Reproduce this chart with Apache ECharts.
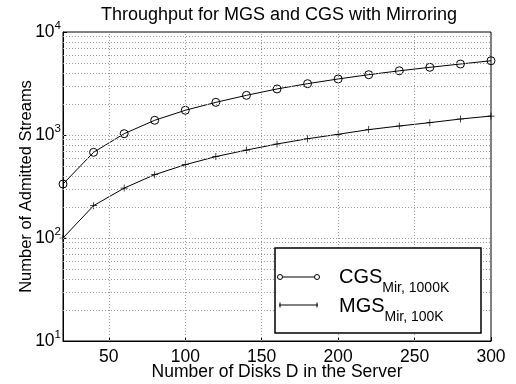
<!DOCTYPE html>
<html>
<head>
<meta charset="utf-8">
<script src="https://cdn.jsdelivr.net/npm/echarts@6/dist/echarts.min.js"></script>
<style>
  html, body { margin: 0; padding: 0; background: #fff; }
  #chart { width: 516px; height: 384px; }
</style>
</head>
<body>
<div id="chart"></div>
<script>
  // number of disks D
  var disks = [20, 40, 60, 80, 100, 120, 140, 160, 180, 200, 220, 240, 260, 280, 300];
  // admitted streams
  var cgsMir = [334, 679, 1030, 1390, 1738, 2075, 2427, 2800, 3150, 3500, 3850, 4200, 4540, 4890, 5260];
  var mgsMir = [100, 206, 305, 412, 515, 617, 714, 818, 920, 1016, 1128, 1223, 1318, 1430, 1528];
  var xTicks = [50, 100, 150, 200, 250, 300];
  var xGrid = [50, 100, 150, 200, 250];
  var yGrid = [20, 30, 40, 50, 60, 70, 80, 90, 100, 200, 300, 400, 500, 600, 700, 800, 900,
               1000, 2000, 3000, 4000, 5000, 6000, 7000, 8000, 9000];

  var font = 'Liberation Sans, Arial, Helvetica, sans-serif';

  function pairs(xs, ys) {
    return xs.map(function (x, i) { return [x, ys[i]]; });
  }

  var chart = echarts.init(document.getElementById('chart'));

  var gridLines = [];
  xGrid.forEach(function (v) { gridLines.push({xAxis: v}); });
  yGrid.forEach(function (v) { gridLines.push({yAxis: v}); });

  var option = {
    backgroundColor: '#fff',
    animation: false,
    title: {
      text: 'Throughput for MGS and CGS with Mirroring',
      left: 274, top: 1, textAlign: 'center',
      textStyle: {fontFamily: font, fontSize: 18, fontWeight: 'normal', color: '#000'}
    },
    grid: {
      left: 63, right: 25, top: 32, bottom: 43,
      outerBoundsMode: 'none',
      show: true, borderColor: '#000', borderWidth: 1
    },
    xAxis: {
      type: 'value', min: 20, max: 300,
      name: 'Number of Disks D in the Server',
      nameLocation: 'middle', nameGap: 22, nameMoveOverlap: false,
      nameTextStyle: {fontFamily: font, fontSize: 17.5, color: '#000'},
      axisLine: {lineStyle: {color: '#000'}},
      axisTick: {inside: true, length: 4, customValues: xTicks, lineStyle: {color: '#000'}},
      axisLabel: {customValues: xTicks, fontFamily: font, fontSize: 17.5, color: '#000', margin: 7},
      splitLine: {show: false}
    },
    yAxis: {
      type: 'log', logBase: 10, min: 10, max: 10000,
      name: 'Number of Admitted Streams',
      nameLocation: 'middle', nameGap: 28, nameMoveOverlap: false,
      nameTextStyle: {fontFamily: font, fontSize: 16.5, color: '#000'},
      axisLine: {lineStyle: {color: '#000'}},
      axisTick: {inside: true, length: 4, lineStyle: {color: '#000'}},
      axisLabel: {
        fontFamily: font, fontSize: 17.5, color: '#000', margin: 2,
        formatter: function (v) {
          return '10{s|' + Math.round(Math.log10(v)) + '}';
        },
        rich: {s: {fontFamily: font, fontSize: 11.5, verticalAlign: 'top', padding: [0, 0, 12, 0], color: '#000'}}
      },
      splitLine: {show: false}
    },
    series: [
      {
        name: 'grid',
        type: 'line',
        data: [],
        silent: true,
        z: 1,
        markLine: {
          silent: true,
          symbol: ['none', 'none'],
          label: {show: false},
          lineStyle: {color: '#999', type: [1, 2], width: 1},
          data: gridLines
        }
      },
      {
        name: 'CGS Mir, 1000K',
        type: 'line',
        data: pairs(disks, cgsMir),
        z: 3,
        symbol: 'circle',
        symbolSize: 8,
        lineStyle: {color: '#000', width: 1},
        itemStyle: {color: 'rgba(255,255,255,0)', borderColor: '#000', borderWidth: 1}
      },
      {
        name: 'MGS Mir, 100K',
        type: 'line',
        data: pairs(disks, mgsMir),
        z: 3,
        symbol: 'path://M0,4.5H10V5.5H0Z M4.5,0H5.5V10H4.5Z',
        symbolSize: 7,
        lineStyle: {color: '#000', width: 1},
        itemStyle: {color: '#000'}
      }
    ],
    graphic: [
      {
        type: 'rect', z: 10,
        shape: {x: 275, y: 248, width: 206, height: 85},
        style: {fill: '#fff', stroke: '#000', lineWidth: 1.5}
      },
      {type: 'line', z: 11, shape: {x1: 279, y1: 277, x2: 318, y2: 277}, style: {stroke: '#000', lineWidth: 1}},
      {type: 'circle', z: 11, shape: {cx: 280, cy: 277, r: 2.5}, style: {fill: '#fff', stroke: '#000', lineWidth: 1}},
      {type: 'circle', z: 11, shape: {cx: 317, cy: 277, r: 2.5}, style: {fill: '#fff', stroke: '#000', lineWidth: 1}},
      {type: 'line', z: 11, shape: {x1: 279, y1: 305, x2: 318, y2: 305}, style: {stroke: '#000', lineWidth: 1}},
      {type: 'line', z: 11, shape: {x1: 280, y1: 302.5, x2: 280, y2: 307.5}, style: {stroke: '#000', lineWidth: 1}},
      {type: 'line', z: 11, shape: {x1: 317, y1: 302.5, x2: 317, y2: 307.5}, style: {stroke: '#000', lineWidth: 1}},
      {
        type: 'text', z: 11, x: 339, y: 277,
        style: {
          text: 'CGS{s|Mir, 1000K}', fill: '#000', font: '20px ' + font, verticalAlign: 'middle',
          rich: {s: {fontFamily: font, fontSize: 14, padding: [22, 0, 0, 0], fill: '#000'}}
        }
      },
      {
        type: 'text', z: 11, x: 339, y: 306,
        style: {
          text: 'MGS{s|Mir, 100K}', fill: '#000', font: '20px ' + font, verticalAlign: 'middle',
          rich: {s: {fontFamily: font, fontSize: 14, padding: [22, 0, 0, 0], fill: '#000'}}
        }
      }
    ]
  };

  chart.setOption(option);
</script>
</body>
</html>
